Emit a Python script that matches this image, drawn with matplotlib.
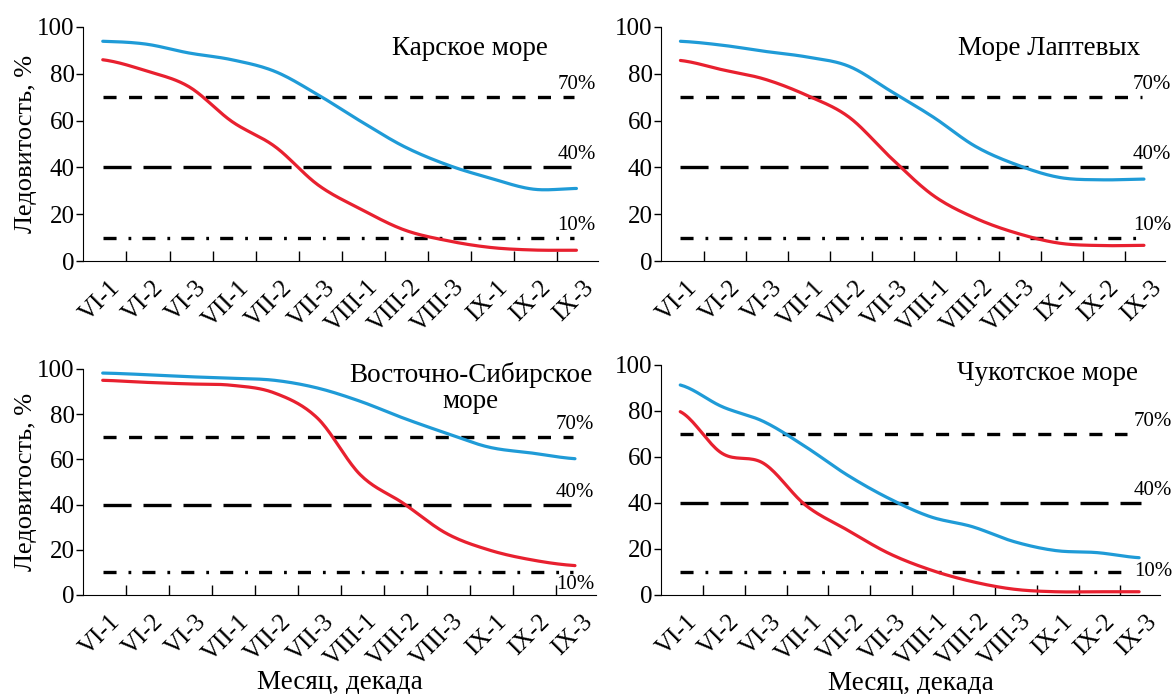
import numpy as np
import matplotlib
matplotlib.use("Agg")
import matplotlib.pyplot as plt
from matplotlib.transforms import ScaledTranslation

plt.rcParams['font.family'] = ['Liberation Serif', 'DejaVu Serif']
plt.rcParams['lines.scale_dashes'] = False

decades = ["VI-1", "VI-2", "VI-3", "VII-1", "VII-2", "VII-3",
           "VIII-1", "VIII-2", "VIII-3", "IX-1", "IX-2", "IX-3"]

seas = ["Карское море", "Море Лаптевых", "Восточно-Сибирское\nморе", "Чукотское море"]

blue_kara = [93.9, 92.7, 88.9, 86, 81, 71, 59.6, 48.9, 41.1, 35.4, 30.7, 31]
red_kara = [86, 81.3, 74.5, 59.6, 48.9, 32.5, 22.1, 13.3, 8.7, 5.8, 4.7, 4.6]

blue_laptev = [93.9, 92.2, 89.6, 87.2, 83.2, 72.5, 61.5, 49, 41, 35.7, 34.7, 35]
red_laptev = [85.7, 81.7, 77.7, 70.8, 61.5, 44, 28, 18.3, 11.8, 7.6, 6.6, 6.7]

blue_esib = [98.2, 97.5, 96.6, 95.9, 95, 91.6, 85.7, 78.3, 71.6, 65.4, 62.8, 60.3]
red_esib = [95, 94.1, 93.4, 92.8, 89.4, 78.3, 53.2, 40.6, 27.3, 19.9, 15.5, 13]

blue_chuk = [91.3, 81.9, 75.4, 64.5, 52.2, 42, 34, 29.7, 23.2, 19.3, 18.4, 16.2]
red_chuk = [79.7, 61.6, 57.2, 39.1, 28.3, 18.1, 10.9, 5.8, 2.5, 1.4, 1.4, 1.4]

blue_series = [blue_kara, blue_laptev, blue_esib, blue_chuk]
red_series = [red_kara, red_laptev, red_esib, red_chuk]

levels = [70, 40, 10]
level_labels = ["70%", "40%", "10%"]

BLUE = "#1f9bd7"
RED = "#e8202f"


def smooth(xs, ys, n=20):
    """Catmull-Rom spline through the given points (drawing only)."""
    xs = np.asarray(xs, float)
    ys = np.asarray(ys, float)
    px = np.concatenate([[2 * xs[0] - xs[1]], xs, [2 * xs[-1] - xs[-2]]])
    py = np.concatenate([[ys[0]], ys, [ys[-1]]])
    ox, oy = [], []
    t = np.linspace(0, 1, n, endpoint=False)
    for i in range(1, len(px) - 2):
        for arr, out in ((px, ox), (py, oy)):
            a, b, c, d = arr[i - 1], arr[i], arr[i + 1], arr[i + 2]
            out.extend(0.5 * ((2 * b) + (-a + c) * t + (2 * a - 5 * b + 4 * c - d) * t ** 2
                              + (-a + 3 * b - 3 * c + d) * t ** 3))
    ox.append(xs[-1])
    oy.append(ys[-1])
    return np.array(ox), np.array(oy)


fig = plt.figure(figsize=(11.75, 6.94), dpi=100)

positions = [
    [0.0706, 0.6239, 0.4383, 0.3372],
    [0.5626, 0.6239, 0.4289, 0.3372],
    [0.0706, 0.1427, 0.4370, 0.3256],
    [0.5626, 0.1427, 0.4246, 0.3314],
]
title_xy = [(8.53, 91), (8.74, 91), (8.57, 91.8), (8.8, 96.5)]
line_end = [[10.95, 10.95, 10.95], [10.95, 10.95, 10.95],
            [10.95, 10.95, 10.95], [10.7, 11.05, 10.8]]
dash_styles = [(0, (9.4, 9.0)), (0, (20.2, 8.6)), (0, (9.4, 8.6, 2.0, 8.0))]
# (x, y, va) for 70/40/10 labels
lev_pos = [
    [(11.45, 71.3, 'bottom'), (11.45, 41.3, 'bottom'), (11.45, 11.3, 'bottom')],
    [(11.65, 71.3, 'bottom'), (11.65, 41.3, 'bottom'), (11.65, 11.3, 'bottom')],
    [(11.45, 71.3, 'bottom'), (11.45, 41.3, 'bottom'), (11.45, 9.0, 'top')],
    [(11.8, 71.5, 'bottom'), (11.8, 41.5, 'bottom'), (11.8, 10.0, 'center')],
]

x = np.arange(len(decades))
for k in range(4):
    ax = fig.add_axes(positions[k])
    for j, lev in enumerate(levels):
        ax.plot([0, line_end[k][j]], [lev, lev], color="black", lw=2.4,
                linestyle=dash_styles[j])
        lx, ly, lva = lev_pos[k][j]
        ax.text(lx, ly, level_labels[j], ha='right', va=lva, fontsize=15,
                clip_on=False)
    sx, sy = smooth(x, blue_series[k])
    ax.plot(sx, sy, color=BLUE, lw=2.3, solid_capstyle='round')
    sx, sy = smooth(x, red_series[k])
    ax.plot(sx, sy, color=RED, lw=2.3, solid_capstyle='round')
    ax.text(title_xy[k][0], title_xy[k][1], seas[k], ha='center', va='center',
            fontsize=19.5, linespacing=1.05)

    ax.set_xlim(-0.46, 11.5)
    ax.set_ylim(0, 100)
    ax.spines['top'].set_visible(False)
    ax.spines['right'].set_visible(False)
    ax.spines['left'].set_bounds(0, 100)
    ax.set_yticks([0, 20, 40, 60, 80, 100])
    ax.tick_params(axis='y', direction='out', length=5, width=1, labelsize=18, pad=1)
    ax.set_xticks(np.arange(len(decades) - 1) + 0.55)
    ax.set_xticklabels([])
    ax.tick_params(axis='x', which='major', direction='in', length=7, width=1)
    ax.set_xticks(x, minor=True)
    ax.set_xticklabels(decades, minor=True, rotation=45, ha='right', va='top',
                       rotation_mode='anchor', fontsize=18)
    ax.tick_params(axis='x', which='minor', length=0, pad=11)
    off = ScaledTranslation(6 / 100, 0, fig.dpi_scale_trans)
    for lab in ax.get_xticklabels(minor=True):
        lab.set_transform(lab.get_transform() + off)
    if k in (0, 2):
        ax.set_ylabel("Ледовитость, %", fontsize=19, va='center')
        ax.yaxis.set_label_coords(-0.11, 0.5)
    if k in (2, 3):
        ax.set_xlabel("Месяц, декада", fontsize=19.5, va='center')
        ax.xaxis.set_label_coords(0.5, -0.383)

fig.savefig("out.png", dpi=100)
